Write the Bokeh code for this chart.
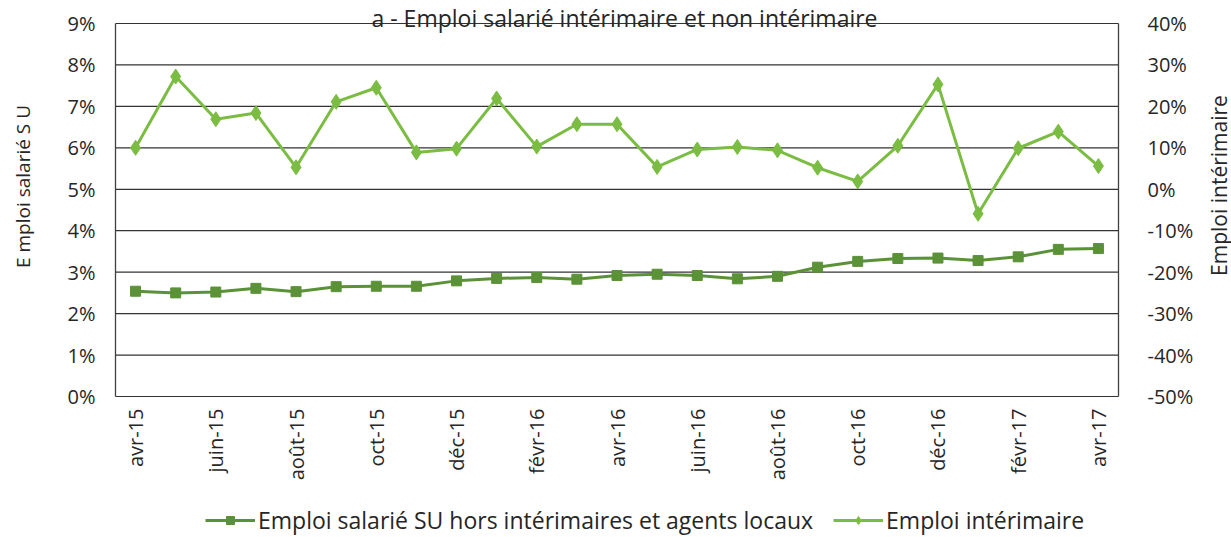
import math
from bokeh.plotting import figure
from bokeh.models import (Range1d, LinearAxis, FixedTicker, PrintfTickFormatter,
                          Legend, LegendItem, Label, Grid)
from bokeh.embed import file_html
from bokeh.resources import INLINE

months = ["avr-15", "mai-15", "juin-15", "juil-15", "août-15", "sept-15", "oct-15",
          "nov-15", "déc-15", "janv-16", "févr-16", "mars-16", "avr-16", "mai-16",
          "juin-16", "juil-16", "août-16", "sept-16", "oct-16", "nov-16", "déc-16",
          "janv-17", "févr-17", "mars-17", "avr-17"]

salarie_su = [2.54, 2.50, 2.52, 2.61, 2.53, 2.65, 2.66, 2.66, 2.79, 2.85, 2.87, 2.83,
              2.92, 2.95, 2.92, 2.84, 2.90, 3.12, 3.26, 3.33, 3.34, 3.28, 3.37, 3.55, 3.57]

interimaire = [10.0, 27.2, 16.9, 18.4, 5.3, 21.1, 24.5, 8.9, 9.8, 21.9, 10.3, 15.7,
               15.7, 5.4, 9.6, 10.2, 9.4, 5.2, 1.9, 10.5, 25.3, -5.9, 9.9, 13.9, 5.6]

left_ticks = [0, 1, 2, 3, 4, 5, 6, 7, 8, 9]
right_ticks = [-50, -40, -30, -20, -10, 0, 10, 20, 30, 40]

title_text = "a - Emploi salarié intérimaire et non intérimaire"
left_label = "E mploi salarié S U"
right_label = "Emploi intérimaire"
series_names = ["Emploi salarié SU hors intérimaires et agents locaux", "Emploi intérimaire"]

DARK = "#5b9238"
LIGHT = "#7bbd43"
TXT = "#262626"
GRID = "#333333"
FONT = "Open Sans"

# layout (pixels of the 1231x537 canvas)
W, H = 1231, 537
PL, PR, PT, PB = 115, 1118, 23, 396          # plotting box edges
n = len(months)
LMIN, LMAX = left_ticks[0], left_ticks[-1]
RMIN, RMAX = right_ticks[0], right_ticks[-1]
pxu = (PR - PL) / n                 # px per month
pyu = (PB - PT) / (LMAX - LMIN)     # px per left unit
pyr = (PB - PT) / (RMAX - RMIN)     # px per right unit
X0, X1 = -0.5, n - 0.5

x = list(range(n))

p = figure(frame_width=W, frame_height=H, min_border=0, output_backend="svg",
           toolbar_location=None, x_axis_location=None, y_axis_location=None,
           x_range=Range1d(X0 - PL / pxu, X1 + (W - PR) / pxu),
           y_range=Range1d(LMIN - (H - PB) / pyu, LMAX + PT / pyu),
           background_fill_color="white", border_fill_color="white")
p.extra_y_ranges = {"right": Range1d(RMIN - (H - PB) / pyr, RMAX + PT / pyr)}
p.outline_line_color = None

# remove default grids
for r in list(p.center):
    if isinstance(r, Grid):
        r.visible = False
        r.grid_line_color = None

# grid lines and box sides
p.segment(x0=[X0] * len(left_ticks), x1=[X1] * len(left_ticks), y0=left_ticks,
          y1=left_ticks, line_color=GRID, line_width=1.2)
p.segment(x0=[X0, X1], x1=[X0, X1], y0=[LMIN, LMIN], y1=[LMAX, LMAX],
          line_color="#404040", line_width=1.3)

# axes drawn at fixed locations
xa = LinearAxis(fixed_location=LMIN, ticker=FixedTicker(ticks=x[::2]),
                major_label_overrides={i: months[i] for i in x[::2]},
                major_label_orientation=math.pi / 2, major_label_standoff=12)
ya = LinearAxis(fixed_location=X0, ticker=FixedTicker(ticks=left_ticks),
                formatter=PrintfTickFormatter(format="%d%%"), major_label_standoff=20)
ra = LinearAxis(fixed_location=X1, y_range_name="right",
                ticker=FixedTicker(ticks=right_ticks),
                formatter=PrintfTickFormatter(format="%d%%"), major_label_standoff=29)
for ax in [xa, ya, ra]:
    ax.axis_line_color = None
    ax.major_tick_line_color = None
    ax.minor_tick_line_color = None
    ax.major_tick_out = 0
    ax.major_tick_in = 0
    ax.minor_tick_out = 0
    ax.minor_tick_in = 0
    ax.major_label_text_font = FONT
    ax.major_label_text_font_size = "20px"
    ax.major_label_text_color = TXT
p.add_layout(xa, "below")
p.add_layout(ya, "left")
p.add_layout(ra, "right")

# series
r1 = p.line(x, salarie_su, line_color=DARK, line_width=3)
s1 = p.scatter(x, salarie_su, marker="square", size=10, color=DARK)
r2 = p.line(x, interimaire, y_range_name="right", line_color=LIGHT, line_width=3)
s2 = p.scatter(x, interimaire, y_range_name="right", marker="diamond", size=15, color=LIGHT)

legend = Legend(items=[LegendItem(label=series_names[0], renderers=[r1, s1]),
                       LegendItem(label=series_names[1], renderers=[r2, s2])],
                orientation="horizontal", location=(205, 1),
                label_text_font=FONT, label_text_font_size="23px",
                label_text_color=TXT, glyph_width=50, glyph_height=20,
                label_standoff=3, spacing=20, padding=0, margin=0,
                border_line_color=None, background_fill_alpha=0)
p.add_layout(legend, "center")

# title and axis titles
p.add_layout(Label(x=X0 + (624 - PL) / pxu, y=LMAX - (17 - PT) / pyu, text=title_text,
                   text_align="center", text_baseline="alphabetic", text_font=FONT,
                   text_font_size="23px", text_color=TXT))
p.add_layout(Label(x=X0 - (PL - 22) / pxu, y=LMIN + (PB - 186) / pyu, text=left_label,
                   angle=math.pi / 2, text_align="center", text_baseline="middle",
                   text_font=FONT, text_font_size="19px", text_color=TXT))
p.add_layout(Label(x=X1 + (1218 - PR) / pxu, y=LMIN + (PB - 185) / pyu, text=right_label,
                   angle=math.pi / 2, text_align="center", text_baseline="middle",
                   text_font=FONT, text_font_size="21px", text_color=TXT))

open("out.html", "w").write(file_html(p, INLINE))
